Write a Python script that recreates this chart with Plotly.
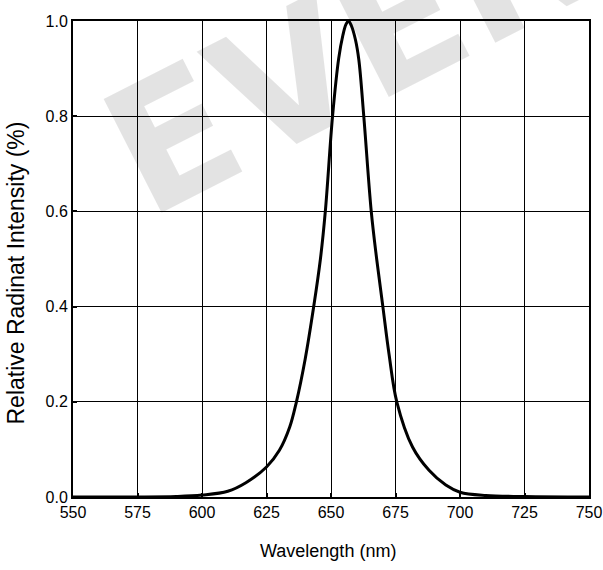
import plotly.graph_objects as go

wavelength = [550, 575, 590, 600, 610, 617, 625, 630, 634, 636.6, 640, 643.3, 645.9, 647.8, 650.6, 653.0, 654.6, 655.8, 656.8,
              657.9, 659.5, 660.8, 662.7, 665.6, 667.7, 670.1, 672.5, 675.5, 681.6, 688, 694.5, 700, 710, 725, 750]
intensity = [0.0, 0.0, 0.001, 0.004, 0.012, 0.03, 0.063, 0.098, 0.147, 0.2, 0.29, 0.4, 0.5, 0.6, 0.8, 0.922, 0.97, 0.993, 1.0,
             0.99, 0.96, 0.918, 0.8, 0.6, 0.5, 0.4, 0.3, 0.2, 0.105, 0.056, 0.025, 0.01, 0.003, 0.001, 0.0]

x_ticks = [550, 575, 600, 625, 650, 675, 700, 725, 750]
y_ticks = [0.0, 0.2, 0.4, 0.6, 0.8, 1.0]
y_tick_labels = ["0.0", "0.2", "0.4", "0.6", "0.8", "1.0"]

x_title = "Wavelength (nm)"
y_title = "Relative Radinat Intensity (%)"
watermark = "EVER"

font_main = "Liberation Sans, Arial"

fig = go.Figure()
fig.add_trace(go.Scatter(x=wavelength, y=intensity, mode="lines",
                         line=dict(color="black", width=3, shape="spline", smoothing=1.0),
                         showlegend=False, hoverinfo="skip"))

fig.add_annotation(text="<b>" + watermark + "</b>", xref="paper", yref="paper", x=0.53, y=0.938,
                   xanchor="center", yanchor="middle",
                   showarrow=False, textangle=-27,
                   font=dict(family="DejaVu Sans, Liberation Sans", size=175, color="rgba(0,0,0,0.11)"))

fig.add_annotation(text=x_title, xref="paper", yref="paper", x=0.494, y=-0.113,
                   xanchor="center", yanchor="middle", showarrow=False,
                   font=dict(family=font_main, size=18, color="black"))
fig.add_annotation(text=y_title, xref="paper", yref="paper", x=-0.110, y=0.47,
                   xanchor="center", yanchor="middle", showarrow=False, textangle=-90,
                   font=dict(family=font_main, size=23, color="black"))

axis_common = dict(showline=True, linecolor="black", linewidth=2, mirror=True,
                   showgrid=True, gridcolor="black", gridwidth=1,
                   ticks="inside", ticklen=4, tickwidth=2, tickcolor="black",
                   zeroline=False, automargin=False,
                   tickfont=dict(family=font_main, size=16, color="black"))

fig.update_xaxes(range=[550, 750], tickvals=x_ticks, ticktext=[str(v) for v in x_ticks], **axis_common)
fig.update_yaxes(range=[0, 1.0], tickvals=y_ticks, ticktext=y_tick_labels, **axis_common)

fig.update_layout(width=603, height=570, margin=dict(l=73, r=14, t=21, b=73),
                  plot_bgcolor="rgba(0,0,0,0)", paper_bgcolor="white")

fig.write_html("out.html", config={"displayModeBar": False},
               post_script="document.body.style.margin='0';document.body.style.overflow='hidden';")
